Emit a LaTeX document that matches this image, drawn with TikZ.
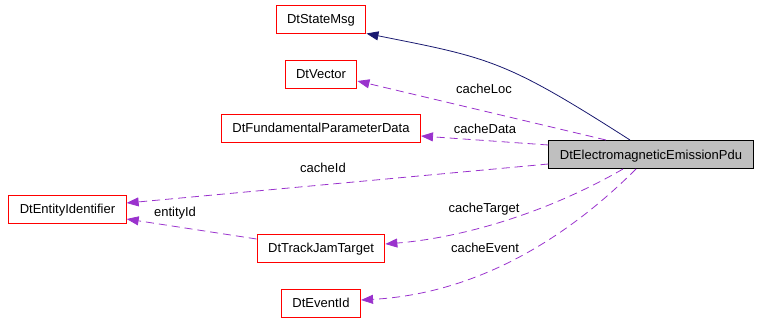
\documentclass[tikz,border=0pt]{standalone}
\usepackage{fontspec}
\setmainfont{Liberation Sans}
\usetikzlibrary{arrows.meta, positioning}

\definecolor{edgepurple}{RGB}{154,50,205}
\definecolor{edgenavy}{RGB}{25,25,112}
\definecolor{pdugray}{RGB}{191,191,191}

\begin{document}
\begin{tikzpicture}[
  x=1pt, y=-1pt,
  every node/.style={font=\fontsize{13}{15}\selectfont, text height=9.4pt, text depth=0pt},
  cls/.style={rectangle, draw=red, line width=1pt, fill=white, minimum height=28pt, inner xsep=11pt},
  focus/.style={cls, draw=black, fill=pdugray},
  lbl/.style={inner sep=0pt},
  inherit/.style={-{Triangle[length=12pt, width=9pt]}, draw=edgenavy, line width=0.8pt},
  usage/.style={-{Triangle[length=12pt, width=9pt]}, draw=edgepurple, line width=0.8pt, dash pattern=on 8pt off 5pt}
]
\useasboundingbox (0,0) rectangle (760,319);

% Classes
\node[cls] (statemsg) at (321,19) {DtStateMsg};
\node[cls, below=26pt of statemsg] (vector) {DtVector};
\node[cls, below=25pt of vector] (fpd) {DtFundamentalParameterData};
\node[cls, below=91pt of fpd] (trackjam) {DtTrackJamTarget};
\node[cls, below=26pt of trackjam] (eventid) {DtEventId};
\node[cls, above left=10pt and 130pt of trackjam] (entity) {DtEntityIdentifier};
\node[focus] (pdu) at (651,154.5) {DtElectromagneticEmissionPdu};

% Inheritance
\draw[inherit] ([xshift=-21pt]pdu.north) .. controls (505,60) and (490,58) .. (statemsg.south east);

% Members
\draw[usage] ([xshift=-45pt]pdu.north) -- ([yshift=-7pt]vector.east);
\draw[usage] ([yshift=9.5pt]pdu.west) -- ([yshift=-8pt]fpd.east);
\draw[usage] ([yshift=-9.5pt]pdu.west) -- ([yshift=6pt]entity.east);
\draw[usage] ([xshift=-28pt]pdu.south) .. controls (545,214) and (460,238) .. ([yshift=4pt]trackjam.east);
\draw[usage] ([xshift=-15pt]pdu.south) .. controls (560,245) and (470,294) .. ([yshift=3pt]eventid.east);
\draw[usage] ([yshift=9pt]trackjam.west) -- ([yshift=-10pt]entity.east);

% Labels
\node[lbl] (lcacheloc) at (484,89) {cacheLoc};
\node[lbl] (lcachedata) at (485,129) {cacheData};
\node[lbl] (lcacheid) at (323,168) {cacheId};
\node[lbl] (lentityid) at (175,212) {entityId};
\node[lbl] (lcachetarget) at (484,208) {cacheTarget};
\node[lbl] (lcacheevent) at (485,248) {cacheEvent};

\end{tikzpicture}
\end{document}
